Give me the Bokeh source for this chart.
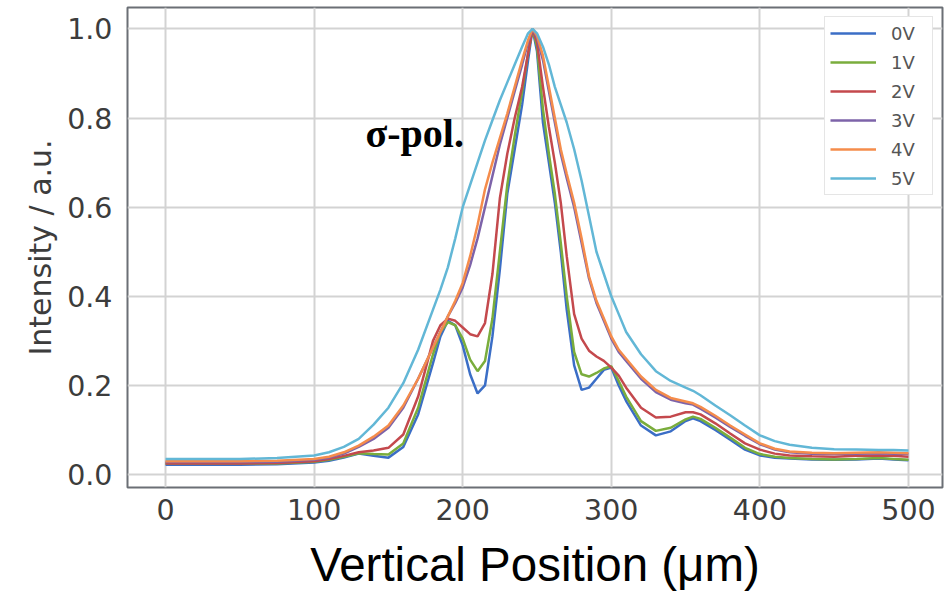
from bokeh.plotting import figure
from bokeh.models import Range1d, FixedTicker, Legend, LegendItem, Label
from bokeh.embed import file_html
from bokeh.resources import INLINE

# ---- data ----
position = [0, 25, 50, 75, 100, 110, 120, 130, 140, 150, 160, 170, 180,
            185, 190, 195, 200, 205, 210, 215, 220, 225, 230, 235, 240,
            244, 247, 250, 254, 258, 262, 266, 270,
            275, 280, 285, 290, 295, 300, 305, 310,
            320, 330, 340, 350, 355, 360, 370, 380, 390, 400,
            410, 420, 435, 450, 465, 480, 490, 500]

v0 = [0.022, 0.022, 0.022, 0.023, 0.027, 0.031, 0.038, 0.047, 0.042, 0.038, 0.062, 0.135, 0.25,
      0.31, 0.345, 0.335, 0.29, 0.225, 0.182, 0.2, 0.31, 0.46, 0.63, 0.73, 0.83,
      0.93, 1.0, 0.95, 0.79, 0.7, 0.61, 0.5, 0.37,
      0.245, 0.19, 0.195, 0.215, 0.235, 0.24, 0.2, 0.165,
      0.11, 0.088, 0.097, 0.12, 0.126, 0.12, 0.1, 0.078, 0.056, 0.043,
      0.038, 0.036, 0.034, 0.033, 0.034, 0.036, 0.034, 0.032]

v1 = [0.025, 0.025, 0.025, 0.025, 0.029, 0.033, 0.04, 0.048, 0.046, 0.045, 0.07, 0.15, 0.27,
      0.32, 0.342, 0.335, 0.305, 0.258, 0.232, 0.255, 0.35, 0.5, 0.65, 0.76, 0.86,
      0.945, 1.0, 0.96, 0.82, 0.72, 0.63, 0.52, 0.4,
      0.275, 0.225, 0.22, 0.228, 0.238, 0.243, 0.21, 0.175,
      0.12, 0.098, 0.105, 0.124, 0.13, 0.125, 0.105, 0.083, 0.06, 0.046,
      0.04, 0.037, 0.035, 0.034, 0.035, 0.037, 0.035, 0.033]

v2 = [0.025, 0.025, 0.025, 0.026, 0.03, 0.035, 0.042, 0.05, 0.054, 0.06, 0.09, 0.175, 0.3,
      0.335, 0.35, 0.345, 0.33, 0.315, 0.31, 0.34, 0.45, 0.62, 0.72, 0.8, 0.87,
      0.945, 1.0, 0.97, 0.87, 0.78, 0.7, 0.61, 0.49,
      0.36, 0.305, 0.278, 0.265, 0.255, 0.24, 0.222, 0.195,
      0.15, 0.128, 0.13, 0.14, 0.14, 0.135, 0.115, 0.092, 0.07, 0.056,
      0.047, 0.043, 0.041, 0.04, 0.042, 0.043, 0.042, 0.04]

v3 = [0.028, 0.028, 0.028, 0.029, 0.033, 0.038, 0.047, 0.062, 0.08, 0.105, 0.15, 0.215, 0.285,
      0.32, 0.355, 0.385, 0.42, 0.47, 0.53, 0.6, 0.67, 0.74, 0.8, 0.86, 0.92,
      0.97, 1.0, 0.98, 0.93, 0.86, 0.79, 0.72, 0.665,
      0.6, 0.52, 0.44, 0.385, 0.345, 0.305, 0.275, 0.255,
      0.215, 0.185, 0.168, 0.16, 0.157, 0.148, 0.128, 0.107, 0.087, 0.068,
      0.056, 0.05, 0.047, 0.046, 0.047, 0.048, 0.047, 0.046]

v4 = [0.03, 0.03, 0.03, 0.031, 0.035, 0.04, 0.05, 0.065, 0.085, 0.11, 0.155, 0.215, 0.285,
      0.32, 0.355, 0.39, 0.43, 0.49, 0.56, 0.64, 0.7, 0.755, 0.81, 0.87, 0.93,
      0.975, 1.0, 0.985, 0.94, 0.87, 0.8, 0.73, 0.675,
      0.61, 0.53, 0.445, 0.39, 0.35, 0.31, 0.28, 0.26,
      0.22, 0.19, 0.172, 0.164, 0.16, 0.152, 0.132, 0.11, 0.09, 0.07,
      0.058, 0.052, 0.049, 0.048, 0.049, 0.05, 0.049, 0.048]

v5 = [0.035, 0.035, 0.035, 0.037, 0.043, 0.05, 0.062, 0.08, 0.112, 0.15, 0.205, 0.28, 0.37,
      0.415, 0.465, 0.53, 0.6, 0.65, 0.7, 0.75, 0.795, 0.84, 0.88, 0.92, 0.96,
      0.99, 1.0, 0.99, 0.96, 0.92, 0.87, 0.83, 0.79,
      0.73, 0.66, 0.58, 0.5, 0.45, 0.4, 0.36, 0.32,
      0.27, 0.232, 0.21, 0.195, 0.188, 0.178, 0.155, 0.133, 0.11, 0.088,
      0.075, 0.067, 0.06, 0.057, 0.056, 0.055, 0.055, 0.054]

series_labels = ["0V", "1V", "2V", "3V", "4V", "5V"]
series_values = [v0, v1, v2, v3, v4, v5]
series_colors = ["#3b6ec6", "#7aad3c", "#c4494d", "#7d63a9", "#f58c4b", "#62b7d6"]

x_ticks = [0, 100, 200, 300, 400, 500]
y_ticks = [0.0, 0.2, 0.4, 0.6, 0.8, 1.0]
y_tick_labels = ["0.0", "0.2", "0.4", "0.6", "0.8", "1.0"]

# ---- figure ----
p = figure(width=948, height=594, output_backend="svg", toolbar_location=None,
           x_range=Range1d(-25.6, 522.9), y_range=Range1d(-0.029, 1.048),
           min_border_left=127, min_border_right=6, min_border_top=7, min_border_bottom=107)

p.background_fill_color = "white"
p.border_fill_color = "white"
p.outline_line_color = "#6b6f75"
p.outline_line_width = 2

p.xaxis.ticker = FixedTicker(ticks=x_ticks)
p.yaxis.ticker = FixedTicker(ticks=y_ticks)
p.yaxis.major_label_overrides = {t: s for t, s in zip(y_ticks, y_tick_labels)}

p.grid.grid_line_color = "#d3d3d3"
p.grid.grid_line_width = 2

for ax in (p.xaxis, p.yaxis):
    ax.axis_line_color = None
    ax.major_tick_line_color = None
    ax.minor_tick_line_color = None
    ax.major_label_text_font = "DejaVu Sans"
    ax.major_label_text_font_size = "28.5px"
    ax.major_label_text_color = "#3c3c3c"

p.xaxis.major_label_standoff = 5
p.yaxis.major_label_standoff = 9

p.yaxis.axis_label = "Intensity / a.u."
p.yaxis.axis_label_text_font = "DejaVu Sans"
p.yaxis.axis_label_text_font_size = "30px"
p.yaxis.axis_label_text_font_style = "normal"
p.yaxis.axis_label_text_color = "#3c3c3c"
p.yaxis.axis_label_standoff = 6

p.xaxis.axis_label = "Vertical Position (\u03bcm)"
p.xaxis.axis_label_text_font = "Liberation Sans"
p.xaxis.axis_label_text_font_size = "47.5px"
p.xaxis.axis_label_text_font_style = "normal"
p.xaxis.axis_label_text_color = "black"
p.xaxis.axis_label_standoff = 15

items = []
for lab, vals, col in zip(series_labels, series_values, series_colors):
    r = p.line(position, vals, line_color=col, line_width=2.5)
    items.append(LegendItem(label=lab, renderers=[r]))

legend = Legend(items=items, location="top_right")
legend.margin = 9
legend.padding = 5
legend.spacing = 7
legend.glyph_width = 46
legend.glyph_height = 22
legend.label_height = 22
legend.label_width = 36
legend.label_standoff = 15
legend.label_text_font = "DejaVu Sans"
legend.label_text_font_size = "18px"
legend.label_text_color = "#555555"
legend.border_line_color = "#cccccc"
legend.border_line_width = 1
legend.background_fill_color = "white"
legend.background_fill_alpha = 1.0
p.add_layout(legend)

p.add_layout(Label(x=134.6, y=0.766, text="\u03c3-pol.", text_font="Liberation Serif",
                   text_font_style="bold", text_font_size="40px",
                   text_baseline="alphabetic", text_align="left", text_color="black"))

open("out.html", "w").write(file_html(p, INLINE))
